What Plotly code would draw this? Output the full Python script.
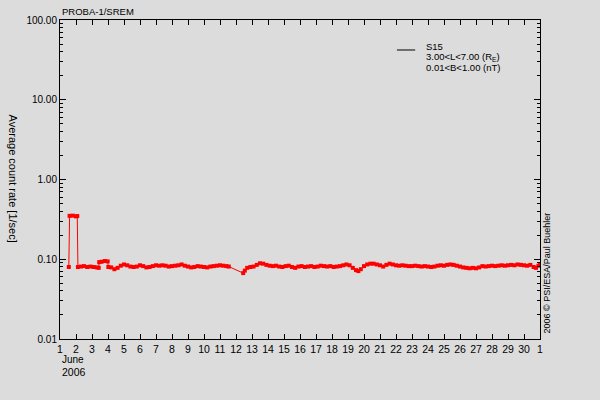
import plotly.graph_objects as go

# day of June 2006 (31 = 1 July) and S15 average count rate [1/sec]
days = [1.55, 1.60, 1.80, 2.00, 2.08, 2.12, 2.3, 2.5, 2.7, 2.9, 3.1, 3.3, 3.42,
        3.45, 3.6, 3.8, 3.98, 4.02, 4.2, 4.4, 4.6, 4.8, 5.0, 5.2, 5.4, 5.6, 5.8,
        6.0, 6.2, 6.4, 6.6, 6.8, 7.0, 7.2, 7.4, 7.6, 7.8, 8.0, 8.2, 8.4, 8.6, 8.8,
        9.0, 9.2, 9.4, 9.6, 9.8, 10.0, 10.2, 10.4, 10.6, 10.8, 11.0, 11.2, 11.4,
        11.55, 12.45, 12.55, 12.7, 12.9, 13.1, 13.3, 13.5, 13.7, 13.9, 14.1, 14.3,
        14.5, 14.7, 14.9, 15.1, 15.3, 15.5, 15.7, 15.9, 16.1, 16.3, 16.5, 16.7,
        16.9, 17.1, 17.3, 17.5, 17.7, 17.9, 18.1, 18.3, 18.5, 18.7, 18.9, 19.1,
        19.3, 19.5, 19.65, 19.8, 20.0, 20.2, 20.4, 20.6, 20.8, 21.0, 21.2, 21.4,
        21.6, 21.8, 22.0, 22.2, 22.4, 22.6, 22.8, 23.0, 23.2, 23.4, 23.6, 23.8,
        24.0, 24.2, 24.4, 24.6, 24.8, 25.0, 25.2, 25.4, 25.6, 25.8, 26.0, 26.2,
        26.4, 26.6, 26.8, 27.0, 27.2, 27.4, 27.6, 27.8, 28.0, 28.2, 28.4, 28.6,
        28.8, 29.0, 29.2, 29.4, 29.6, 29.8, 30.0, 30.2, 30.4, 30.6, 30.75, 30.9,
        31.0]
rate = [0.080, 0.350, 0.352, 0.345, 0.348, 0.080, 0.081, 0.082, 0.080, 0.081,
        0.080, 0.079, 0.078, 0.092, 0.093, 0.095, 0.094, 0.080, 0.079, 0.075,
        0.078, 0.083, 0.086, 0.084, 0.081, 0.080, 0.081, 0.084, 0.082, 0.079,
        0.080, 0.082, 0.084, 0.083, 0.084, 0.083, 0.081, 0.082, 0.083, 0.084,
        0.086, 0.083, 0.081, 0.079, 0.080, 0.082, 0.081, 0.080, 0.079, 0.081,
        0.082, 0.083, 0.084, 0.083, 0.082, 0.081, 0.067, 0.072, 0.078, 0.080,
        0.081, 0.085, 0.089, 0.088, 0.085, 0.083, 0.082, 0.083, 0.081, 0.080,
        0.082, 0.083, 0.080, 0.078, 0.081, 0.082, 0.080, 0.081, 0.082, 0.080,
        0.081, 0.083, 0.082, 0.081, 0.082, 0.080, 0.081, 0.082, 0.084, 0.086,
        0.084, 0.078, 0.073, 0.071, 0.075, 0.082, 0.086, 0.088, 0.088, 0.086,
        0.084, 0.081, 0.085, 0.088, 0.086, 0.084, 0.083, 0.084, 0.083, 0.082,
        0.082, 0.083, 0.082, 0.081, 0.082, 0.081, 0.080, 0.081, 0.083, 0.084,
        0.083, 0.085, 0.086, 0.085, 0.083, 0.081, 0.079, 0.078, 0.077, 0.078,
        0.077, 0.079, 0.082, 0.081, 0.082, 0.083, 0.082, 0.083, 0.084, 0.083,
        0.084, 0.085, 0.084, 0.086, 0.085, 0.084, 0.083, 0.085, 0.080, 0.078,
        0.083, 0.086]

x_ticks = list(range(1, 32))
x_labels = [str(d) for d in range(1, 31)] + ["1"]
y_ticks = [0.01, 0.1, 1, 10, 100]
y_labels = ["0.01", "0.10", "1.00", "10.00", "100.00"]
y_minor = [m * 10 ** e for e in range(-2, 2) for m in range(2, 10)]

BG = "#dcdcdc"
FONT = "Liberation Sans"

fig = go.Figure()
fig.add_trace(go.Scatter(
    x=days, y=rate, mode="lines+markers",
    line=dict(color="red", width=1),
    marker=dict(color="red", size=4, symbol="square"),
    showlegend=False,
))

fig.update_layout(
    width=600, height=400,
    margin=dict(l=60, r=60, t=20, b=61),
    paper_bgcolor=BG, plot_bgcolor=BG,
    font=dict(family=FONT, size=10, color="black"),
)
fig.update_xaxes(
    range=[1, 31], tickmode="array", tickvals=x_ticks, ticktext=x_labels,
    ticks="inside", ticklen=5, tickcolor="black", showgrid=False,
    zeroline=False, showline=True, linecolor="black", linewidth=1,
    mirror="ticks", tickfont=dict(size=10.5),
)
fig.update_yaxes(
    type="log", range=[-2, 2], tickmode="array", tickvals=y_ticks,
    ticktext=y_labels, ticks="inside", ticklen=6, tickcolor="black",
    showgrid=False, zeroline=False, showline=True, linecolor="black",
    linewidth=1, mirror="ticks", tickfont=dict(size=10),
    minor=dict(tickmode="array", tickvals=y_minor, ticks="inside",
               ticklen=3, tickcolor="black", showgrid=False),
)

# titles and labels
fig.add_annotation(text="PROBA-1/SREM", xref="paper", yref="paper",
                   x=0, y=1, xanchor="left", yanchor="bottom", yshift=1,
                   showarrow=False, font=dict(size=9.5))
fig.add_annotation(text="Average count rate [1/sec]", xref="paper", yref="paper",
                   x=0, y=0.503, xshift=-47, xanchor="center", yanchor="middle",
                   textangle=90, showarrow=False, font=dict(size=11))
fig.add_annotation(text="2006 \u00a9 PSI/ESA/Paul Buehler", xref="paper",
                   yref="paper", x=1, y=0, xshift=6, yshift=3, yanchor="bottom",
                   xanchor="center", textangle=-90, showarrow=False,
                   font=dict(size=9))
fig.add_annotation(text="June", xref="paper", yref="paper",
                   x=0, y=0, xanchor="left", yanchor="middle", yshift=-20,
                   showarrow=False, font=dict(size=10))
fig.add_annotation(text="2006", xref="paper", yref="paper",
                   x=0, y=0, xanchor="left", yanchor="middle", yshift=-33,
                   showarrow=False, font=dict(size=10.5))

# legend
fig.add_shape(type="line", xref="paper", yref="paper",
              x0=0.702, x1=0.74, y0=0.906, y1=0.906,
              line=dict(color="black", width=1))
legend_lines = ["S15", "3.00<L<7.00 (R<sub>E</sub>)", "0.01<B<1.00 (nT)"]
for i, txt in enumerate(legend_lines):
    fig.add_annotation(text=txt, xref="paper", yref="paper",
                       x=0.758, y=0.918 - i * 0.034, xanchor="left",
                       yanchor="middle", showarrow=False,
                       font=dict(size=9.5))

# drop the browser's default page margin so the figure fills the window
fig.write_html("out.html", config={"displayModeBar": False},
               post_script="document.body.style.margin='0';"
                           "document.body.style.backgroundColor='#dcdcdc';")
